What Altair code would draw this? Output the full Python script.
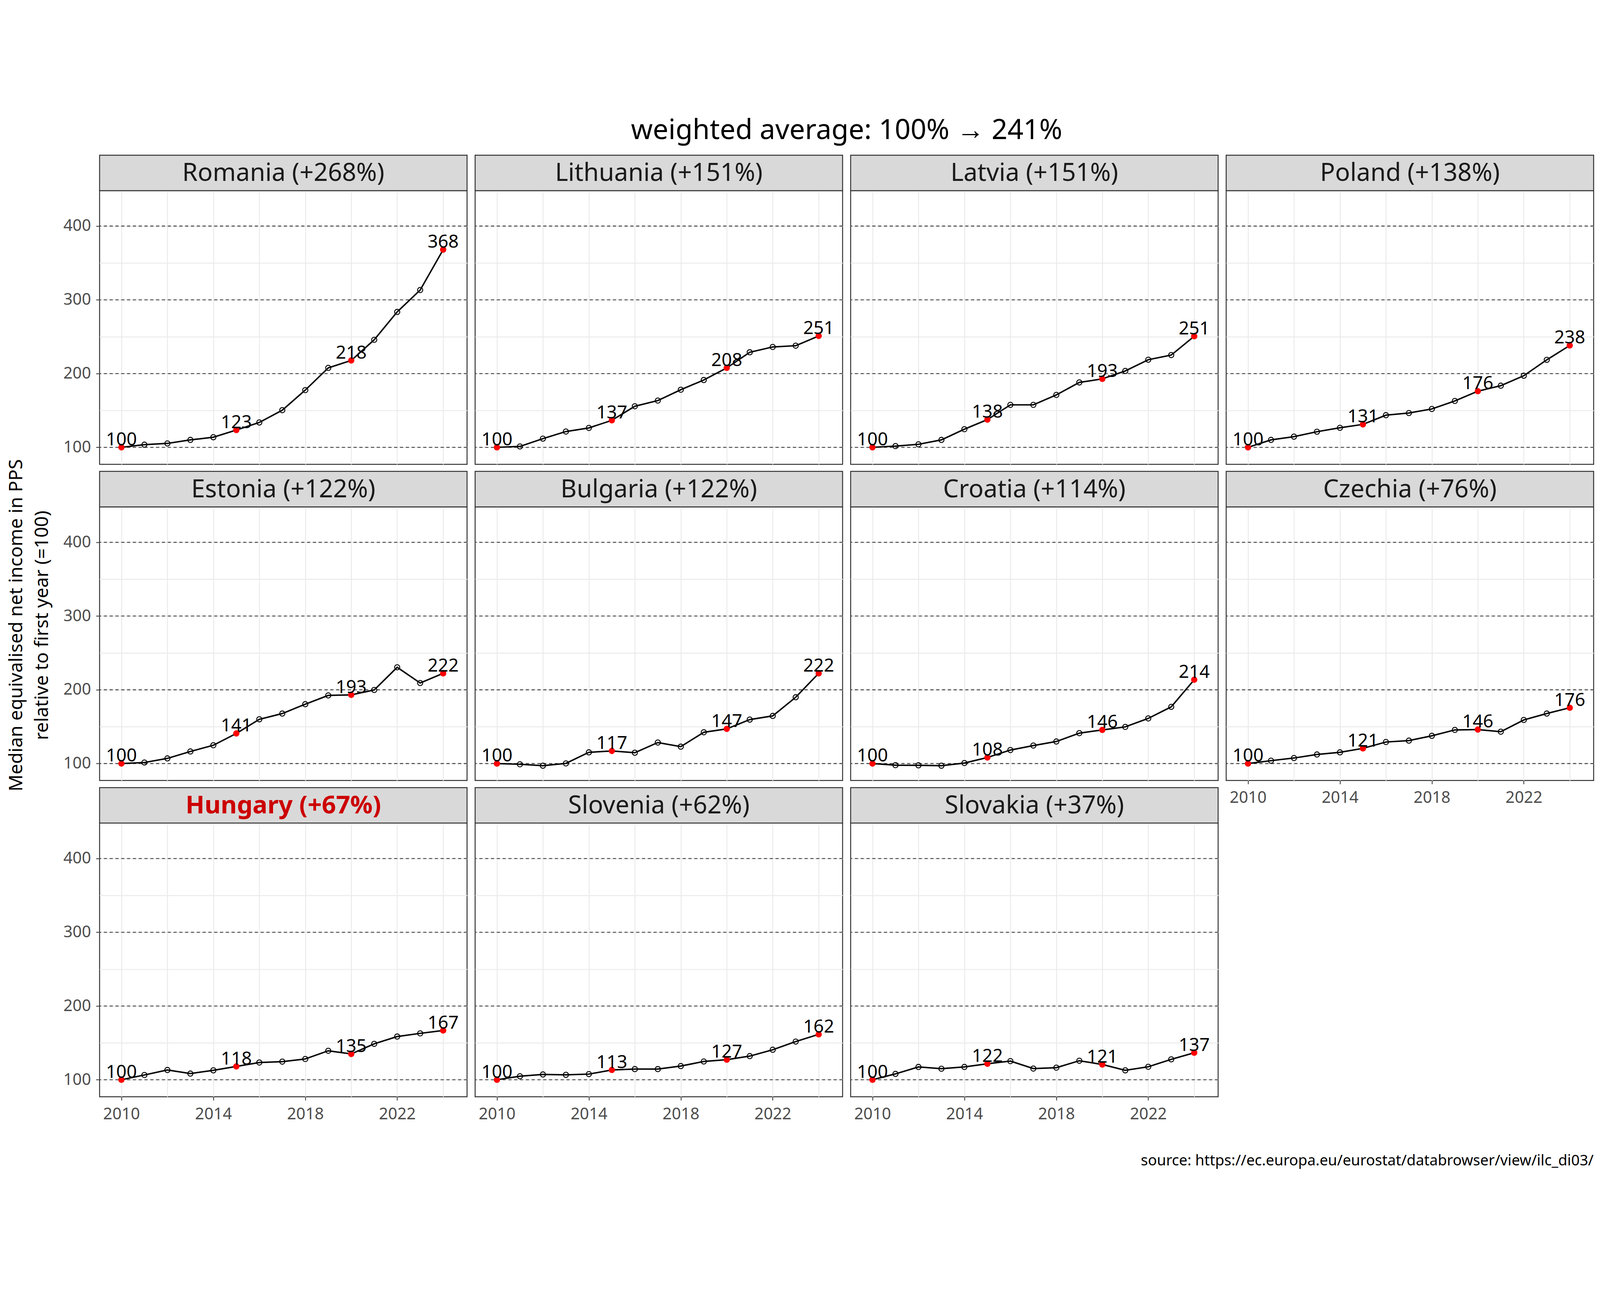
import altair as alt
import pandas as pd

years = list(range(2010, 2025))
highlight_years = [2010, 2015, 2020, 2024]

countries = ["Romania", "Lithuania", "Latvia", "Poland",
             "Estonia", "Bulgaria", "Croatia", "Czechia",
             "Hungary", "Slovenia", "Slovakia"]
growth = ["+268%", "+151%", "+151%", "+138%",
          "+122%", "+122%", "+114%", "+76%",
          "+67%", "+62%", "+37%"]

romania = [100, 103.6, 105.3, 110.1, 113.7, 123.4, 133.7, 150.4, 177.6, 207.7, 217.8, 245.8, 283.6, 313.3, 368.0]
lithuania = [100, 101.2, 111.8, 121.4, 126.3, 136.6, 155.7, 163.4, 178.1, 191.3, 207.7, 228.9, 236.1, 237.8, 251.0]
latvia = [100, 101.7, 104.1, 110.1, 124.6, 137.6, 157.6, 157.6, 171.1, 188.0, 192.8, 203.6, 218.8, 225.1, 250.6]
poland = [100, 110.1, 114.5, 121.2, 126.5, 131.1, 143.6, 146.5, 152.0, 162.9, 176.1, 183.6, 197.1, 218.6, 238.1]
estonia = [100, 101.4, 107.0, 116.4, 124.8, 140.8, 160.0, 167.8, 180.5, 192.4, 193.1, 199.8, 230.5, 209.2, 222.3]
bulgaria = [100, 99.0, 97.1, 100.2, 115.2, 117.1, 114.7, 128.5, 122.9, 142.4, 147.0, 159.6, 164.6, 189.9, 222.3]
croatia = [100, 97.8, 97.6, 97.1, 100.7, 108.2, 118.3, 124.4, 129.9, 141.2, 145.6, 149.7, 161.2, 176.9, 213.6]
czechia = [100, 103.9, 107.5, 112.3, 115.2, 120.6, 129.2, 131.1, 137.6, 145.6, 146.1, 143.2, 159.1, 167.8, 175.7]
hungary = [100, 106.5, 113.3, 108.4, 112.8, 118.1, 123.4, 124.6, 128.2, 139.3, 135.0, 148.7, 158.6, 162.9, 166.8]
slovenia = [100, 104.8, 107.2, 106.7, 107.7, 113.3, 114.5, 114.5, 118.6, 124.8, 127.2, 132.1, 140.7, 151.8, 161.6]
slovakia = [100, 108.0, 117.4, 115.0, 117.4, 121.7, 125.3, 115.2, 116.4, 125.8, 120.7, 112.8, 117.6, 127.7, 136.6]

series = {
    "Romania": romania, "Lithuania": lithuania, "Latvia": latvia, "Poland": poland,
    "Estonia": estonia, "Bulgaria": bulgaria, "Croatia": croatia, "Czechia": czechia,
    "Hungary": hungary, "Slovenia": slovenia, "Slovakia": slovakia,
}

hline_values = [100, 200, 300, 400]
x_grid_values = [2010, 2012, 2014, 2016, 2018, 2020, 2022, 2024]
y_grid_values = [100, 150, 200, 250, 300, 350, 400]

title_text = "weighted average: 100% \u2192 241%"
source_text = "source: https://ec.europa.eu/eurostat/databrowser/view/ilc_di03/"
y_title_lines = ["Median equivalised net income in PPS", "relative to first year (=100)"]

FONT = "Noto Sans"
W, H, STRIP, GAP, COLGAP = 1139, 848, 110, 22, 25
TICK, XPAD, YPAD = 11, 18, 16
LABEL_SIZE = 50
LABEL_COLOR = "#4d4d4d"

# fixed page placement (autosize none): origin = top-left of the first panel's plot area
PAD_LEFT, PAD_TOP = 299, 235
SVG_W, SVG_H = 4940, 3285

xs = alt.Scale(domain=[2009.05, 2025.04], nice=False, zero=False)
ys = alt.Scale(domain=[77, 448], nice=False, zero=False)


def make_axes(i):
    show_x = i >= 7
    show_y = i % 4 == 0
    xaxis = alt.Axis(
        values=x_grid_values, format="d", title=None, grid=True, domain=False,
        labels=show_x, ticks=show_x,
        labelExpr="datum.value % 4 == 2 ? datum.label : ''",
        tickOpacity={"condition": {"test": "datum.value % 4 != 2", "value": 0}, "value": 1},
        labelPadding=XPAD,
    )
    yaxis = alt.Axis(
        values=y_grid_values, format="d", title=None, grid=True, domain=False,
        labels=show_y, ticks=show_y,
        labelExpr="datum.value % 100 == 0 ? datum.label : ''",
        tickOpacity={"condition": {"test": "datum.value % 100 != 0", "value": 0}, "value": 1},
        labelPadding=YPAD,
    )
    return xaxis, yaxis


def panel(i, name):
    df = pd.DataFrame({"year": years, "value": series[name]})
    df["hl"] = df["year"].isin(highlight_years)
    xaxis, yaxis = make_axes(i)
    X = alt.X("year:Q", scale=xs, axis=xaxis)
    Y = alt.Y("value:Q", scale=ys, axis=yaxis)

    hdf = pd.DataFrame({"value": hline_values})
    rules = alt.Chart(hdf).mark_rule(color="#333333", strokeWidth=2.5, strokeDash=[10, 8]).encode(y=Y)

    base = alt.Chart(df)
    line = base.mark_line(color="black", strokeWidth=4.5).encode(x=X, y=Y)
    open_pts = base.transform_filter("!datum.hl").mark_point(
        shape="circle", filled=False, color="black", size=260, strokeWidth=2.8, opacity=1
    ).encode(x=X, y=Y)
    red_pts = base.transform_filter("datum.hl").mark_circle(
        color="red", size=380, opacity=1
    ).encode(x=X, y=Y)
    labels = base.transform_filter("datum.hl").mark_text(
        font=FONT, fontSize=56, color="black", align="center", baseline="alphabetic", dy=-6
    ).encode(x=X, y=Y, text=alt.Text("value:Q", format=".0f"))

    sdf = pd.DataFrame({"label": [f"{name} ({growth[i]})"]})
    is_hu = name == "Hungary"
    strip_rect = alt.Chart(sdf).mark_rect(fill="#d9d9d9", stroke="#333333", strokeWidth=3).encode(
        x=alt.value(0), x2=alt.value(W), y=alt.value(-STRIP), y2=alt.value(0)
    )
    strip_text = alt.Chart(sdf).mark_text(
        font=FONT, fontSize=77, color="#cc0000" if is_hu else "#1a1a1a",
        fontWeight="bold" if is_hu else "normal", align="center", baseline="middle", dy=2
    ).encode(x=alt.value(W / 2), y=alt.value(-STRIP / 2), text="label:N")

    layers = [rules, line, open_pts, red_pts, labels, strip_rect, strip_text]

    if i == 1:
        # overall title, centred over the four columns of panels
        tdf = pd.DataFrame({"t": [title_text]})
        layers.append(alt.Chart(tdf).mark_text(
            font=FONT, fontSize=86, color="black", align="center", baseline="middle"
        ).encode(x=alt.value(W + COLGAP / 2), y=alt.value(-186), text="t:N"))

    if i == 4:
        # y-axis title (two rotated lines), centred over the three rows
        ydf = pd.DataFrame({"t": y_title_lines, "xpos": [-257, -177]})
        layers.append(alt.Chart(ydf).mark_text(
            font=FONT, fontSize=58, color="black", align="center", baseline="middle", angle=270
        ).encode(x=alt.X("xpos:Q", scale=None, axis=None), y=alt.value(367), text="t:N"))

    return alt.layer(*layers).properties(
        width=W, height=H,
        view=alt.ViewBackground(stroke="#333333", strokeWidth=3, fill="white"),
    )


panels = [panel(i, c) for i, c in enumerate(countries)]

caption = alt.Chart(pd.DataFrame({"t": [source_text]})).mark_text(
    font=FONT, fontSize=46, color="black", align="right", baseline="middle"
).encode(x=alt.value(W), y=alt.value(1047), text="t:N").properties(
    width=W, height=H, view=alt.ViewBackground(stroke="transparent", fill="transparent")
)

chart = alt.concat(
    *panels, caption, columns=4, spacing={"row": STRIP + GAP, "column": COLGAP}, bounds="flush"
).properties(
    autosize=alt.AutoSizeParams(type="none"),
    padding={"left": PAD_LEFT, "top": PAD_TOP,
             "right": SVG_W - PAD_LEFT, "bottom": SVG_H - PAD_TOP},
    background="white",
).configure_axis(
    labelFont=FONT, labelFontSize=LABEL_SIZE, labelColor=LABEL_COLOR,
    tickColor="#333333", tickWidth=2.5, tickSize=TICK,
    gridColor="#ebebeb", gridWidth=3,
).configure_view(strokeWidth=3)

chart.save("out.html", embed_options={"renderer": "svg", "actions": False})
